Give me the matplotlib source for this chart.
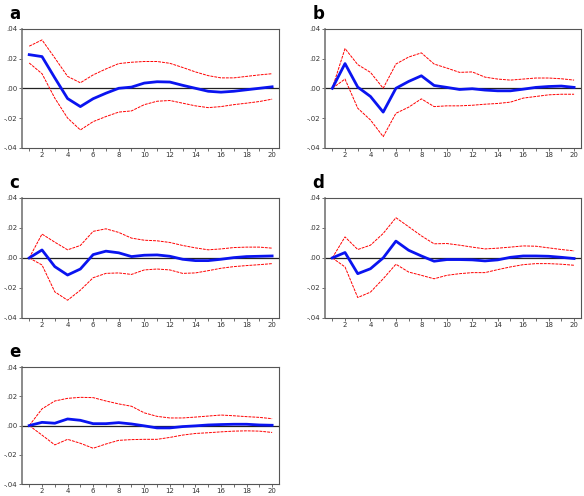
import matplotlib
matplotlib.use('Agg')
import matplotlib.pyplot as plt
import numpy as np

periods = list(range(1, 21))

# Panel a
a_resp = [0.0226, 0.0213, 0.0070, -0.0069, -0.0123, -0.0070, -0.0033, 0.0000, 0.0008, 0.0035,
          0.0044, 0.0042, 0.0020, 0.0000, -0.0020, -0.0026, -0.0020, -0.0010, 0.0000, 0.0010]
a_up = [0.0283, 0.0325, 0.0204, 0.0080, 0.0037, 0.0090, 0.0130, 0.0166, 0.0175, 0.0180,
        0.0180, 0.0168, 0.0140, 0.0110, 0.0085, 0.0070, 0.0070, 0.0080, 0.0090, 0.0098]
a_lo = [0.0170, 0.0098, -0.0066, -0.0200, -0.0280, -0.0224, -0.0190, -0.0160, -0.0152, -0.0110,
        -0.0087, -0.0082, -0.0100, -0.0118, -0.0130, -0.0123, -0.0110, -0.0100, -0.0089, -0.0073]

# Panel b
b_resp = [0.0, 0.0166, 0.0008, -0.0055, -0.0160, 0.0000, 0.0046, 0.0084, 0.0019, 0.0006,
          -0.0008, -0.0003, -0.0012, -0.0017, -0.0017, -0.0006, 0.0006, 0.0012, 0.0015, 0.0006]
b_up = [0.0, 0.0267, 0.0159, 0.0107, 0.0000, 0.0163, 0.0210, 0.0238, 0.0163, 0.0136,
        0.0107, 0.0110, 0.0075, 0.0062, 0.0055, 0.0062, 0.0069, 0.0069, 0.0064, 0.0055]
b_lo = [0.0, 0.0062, -0.0134, -0.0213, -0.0325, -0.0168, -0.0127, -0.0071, -0.0123, -0.0118,
        -0.0118, -0.0114, -0.0107, -0.0102, -0.0093, -0.0066, -0.0055, -0.0044, -0.0040, -0.0040]

# Panel c
c_resp = [0.0, 0.0053, -0.0058, -0.0114, -0.0074, 0.0022, 0.0045, 0.0034, 0.0009, 0.0018,
          0.0020, 0.0011, -0.0009, -0.0018, -0.0018, -0.0009, 0.0002, 0.0009, 0.0011, 0.0013]
c_up = [0.0, 0.0159, 0.0105, 0.0054, 0.0083, 0.0177, 0.0194, 0.0170, 0.0132, 0.0118,
        0.0114, 0.0103, 0.0083, 0.0067, 0.0054, 0.0060, 0.0069, 0.0072, 0.0072, 0.0065]
c_lo = [0.0, -0.0047, -0.0226, -0.0282, -0.0215, -0.0132, -0.0103, -0.0100, -0.0110, -0.0080,
        -0.0074, -0.0080, -0.0103, -0.0100, -0.0085, -0.0069, -0.0058, -0.0051, -0.0045, -0.0038]

# Panel d
d_resp = [0.0, 0.0036, -0.0105, -0.0072, 0.0000, 0.0112, 0.0051, 0.0013, -0.0022, -0.0011,
          -0.0011, -0.0013, -0.0020, -0.0013, 0.0004, 0.0013, 0.0013, 0.0011, 0.0004, -0.0004]
d_up = [0.0, 0.0140, 0.0056, 0.0085, 0.0163, 0.0268, 0.0208, 0.0147, 0.0094, 0.0096,
        0.0085, 0.0072, 0.0060, 0.0065, 0.0072, 0.0080, 0.0078, 0.0067, 0.0056, 0.0047]
d_lo = [0.0, -0.0060, -0.0264, -0.0228, -0.0139, -0.0042, -0.0094, -0.0116, -0.0139, -0.0116,
        -0.0105, -0.0098, -0.0098, -0.0078, -0.0060, -0.0045, -0.0038, -0.0038, -0.0042, -0.0049]

# Panel e
e_resp = [0.0, 0.0022, 0.0016, 0.0045, 0.0036, 0.0013, 0.0013, 0.0020, 0.0011, -0.0002,
          -0.0016, -0.0016, -0.0007, -0.0002, 0.0004, 0.0007, 0.0009, 0.0009, 0.0004, 0.0002]
e_up = [0.0, 0.0114, 0.0168, 0.0186, 0.0193, 0.0191, 0.0168, 0.0148, 0.0132, 0.0087,
        0.0063, 0.0052, 0.0052, 0.0058, 0.0065, 0.0072, 0.0067, 0.0061, 0.0056, 0.0047]
e_lo = [0.0, -0.0065, -0.0132, -0.0094, -0.0121, -0.0155, -0.0126, -0.0101, -0.0096, -0.0094,
        -0.0094, -0.0081, -0.0065, -0.0054, -0.0049, -0.0043, -0.0038, -0.0036, -0.0038, -0.0047]

panels = [
    ('a', a_resp, a_up, a_lo, [0.038, 0.702, 0.440, 0.240]),
    ('b', b_resp, b_up, b_lo, [0.557, 0.702, 0.438, 0.240]),
    ('c', c_resp, c_up, c_lo, [0.038, 0.359, 0.440, 0.242]),
    ('d', d_resp, d_up, d_lo, [0.557, 0.359, 0.438, 0.242]),
    ('e', e_resp, e_up, e_lo, [0.038, 0.024, 0.440, 0.236]),
]

yticks = [-0.04, -0.02, 0.0, 0.02, 0.04]
ylabels = ['-.04', '-.02', '.00', '.02', '.04']

fig = plt.figure(figsize=(5.84, 4.96), dpi=100)

for label, resp, up, lo, rect in panels:
    ax = fig.add_axes(rect)
    ax.axhline(0, color='#222222', linewidth=0.9, zorder=1)
    ax.plot(periods, up, color='red', linestyle=(0, (3, 1)), linewidth=0.7, zorder=2)
    ax.plot(periods, lo, color='red', linestyle=(0, (3, 1)), linewidth=0.7, zorder=2)
    ax.plot(periods, resp, color='#0A14F0', linewidth=2.0, zorder=3)
    ax.set_xlim(0.45, 20.55)
    ax.set_ylim(-0.04, 0.04)
    ax.set_xticks(range(2, 21, 2))
    ax.set_xticks(range(1, 21), minor=True)
    ax.set_yticks(yticks)
    ax.set_yticklabels(ylabels)
    ax.tick_params(axis='both', which='both', direction='out', labelsize=5,
                   colors='#555555', labelcolor='#333333', width=0.6, pad=1)
    ax.tick_params(axis='x', which='both', length=2)
    ax.tick_params(axis='y', length=2.5)
    for s in ax.spines.values():
        s.set_color('#555555')
        s.set_linewidth(0.8)
    ax.spines['left'].set_linewidth(1.2)
    ax.spines['left'].set_color('#777777')
    fig.text(rect[0] - 0.022, rect[1] + rect[3] + 0.048, label,
             fontsize=12, fontweight='bold', ha='left', va='top')

fig.savefig('out.png', dpi=100)
